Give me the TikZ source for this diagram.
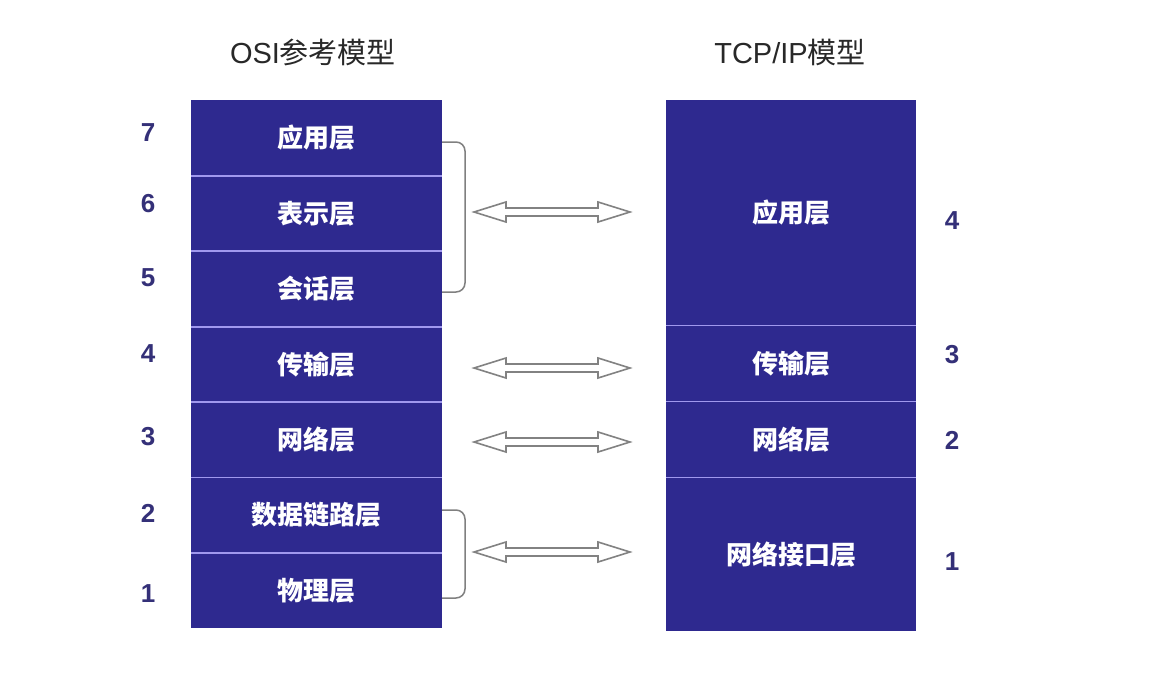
\documentclass[tikz,border=0pt]{standalone}
\usepackage{fontspec}
\setmainfont{Liberation Sans}
\newfontfamily\cjk{Noto Sans CJK SC}
\definecolor{layerblue}{RGB}{46,41,143}
\definecolor{seplav}{RGB}{160,152,238}
\definecolor{numblue}{RGB}{52,48,120}
\definecolor{titlegray}{RGB}{40,40,40}
\definecolor{bracegray}{RGB}{128,128,128}
\definecolor{arrgray}{RGB}{130,130,130}
\begin{document}
\begin{tikzpicture}[x=1pt,y=-1pt,
  layer/.style={fill=layerblue, minimum width=251pt, inner sep=0pt, anchor=north west,
    text=white, font=\cjk\bfseries\fontsize{26}{26}\selectfont},
  rlayer/.style={layer, minimum width=250pt},
  sepline/.style={draw=seplav, line width=1.8pt},
  num/.style={text=numblue, font=\bfseries\fontsize{26}{26}\selectfont},
  ttl/.style={text=titlegray, font=\fontsize{29}{29}\selectfont, inner sep=0pt},
  bracket/.style={draw=bracegray, line width=1.5pt, rounded corners=9pt},
  dblarr/.style={draw=arrgray, fill=white, line width=1.6pt, line join=miter}]
\useasboundingbox[fill=white] (0,0) rectangle (1166,694);

% titles
\node[ttl] (t1) at (313,52) {OSI{\cjk 参考模型}};
\node[ttl] (t2) at (790,52) {TCP/IP{\cjk 模型}};

% OSI stack
\node[layer, minimum height=75.5pt] (l7) at (191,100.0) {应用层};
\node[layer, minimum height=75.5pt] (l6) at (191,175.4) {表示层};
\node[layer, minimum height=75.5pt] (l5) at (191,250.8) {会话层};
\node[layer, minimum height=75.5pt] (l4) at (191,326.2) {传输层};
\node[layer, minimum height=75.5pt] (l3) at (191,401.6) {网络层};
\node[layer, minimum height=75.5pt] (l2) at (191,477.0) {数据链路层};
\node[layer, minimum height=75.5pt] (l1) at (191,552.4) {物理层};
\foreach \n in {l7,l6,l5,l4,l3,l2}
  \draw[sepline] (\n.south west) -- (\n.south east);

% TCP/IP stack
\node[rlayer, minimum height=225pt] (r4) at (666,100) {应用层};
\node[rlayer, minimum height=76pt] (r3) at (666,325) {传输层};
\node[rlayer, minimum height=76pt] (r2) at (666,401) {网络层};
\node[rlayer, minimum height=154pt] (r1) at (666,477) {网络接口层};
\foreach \n in {r4,r3,r2}
  \draw[sepline] (\n.south west) -- (\n.south east);

% numbers
\node[num] (n7) at (148,133) {7};
\node[num] (n6) at (148,204) {6};
\node[num] (n5) at (148,278) {5};
\node[num] (n4) at (148,354) {4};
\node[num] (n3) at (148,437) {3};
\node[num] (n2) at (148,513) {2};
\node[num] (n1) at (148,594) {1};
\node[num] (m4) at (952,221) {4};
\node[num] (m3) at (952,355) {3};
\node[num] (m2) at (952,440) {2};
\node[num] (m1) at (952,562) {1};

% brackets
\draw[bracket] (442,142) -- (465,142) -- (465,292) -- (442,292);
\draw[bracket] (442,510) -- (465,510) -- (465,598) -- (442,598);

% double arrows
\foreach \y in {212,368,442,552}
  \draw[dblarr] (474,\y) -- ++(32,-10) -- ++(0,6) -- ++(92,0) -- ++(0,-6)
    -- ++(32,10) -- ++(-32,10) -- ++(0,-6) -- ++(-92,0) -- ++(0,6) -- cycle;
\end{tikzpicture}
\end{document}
